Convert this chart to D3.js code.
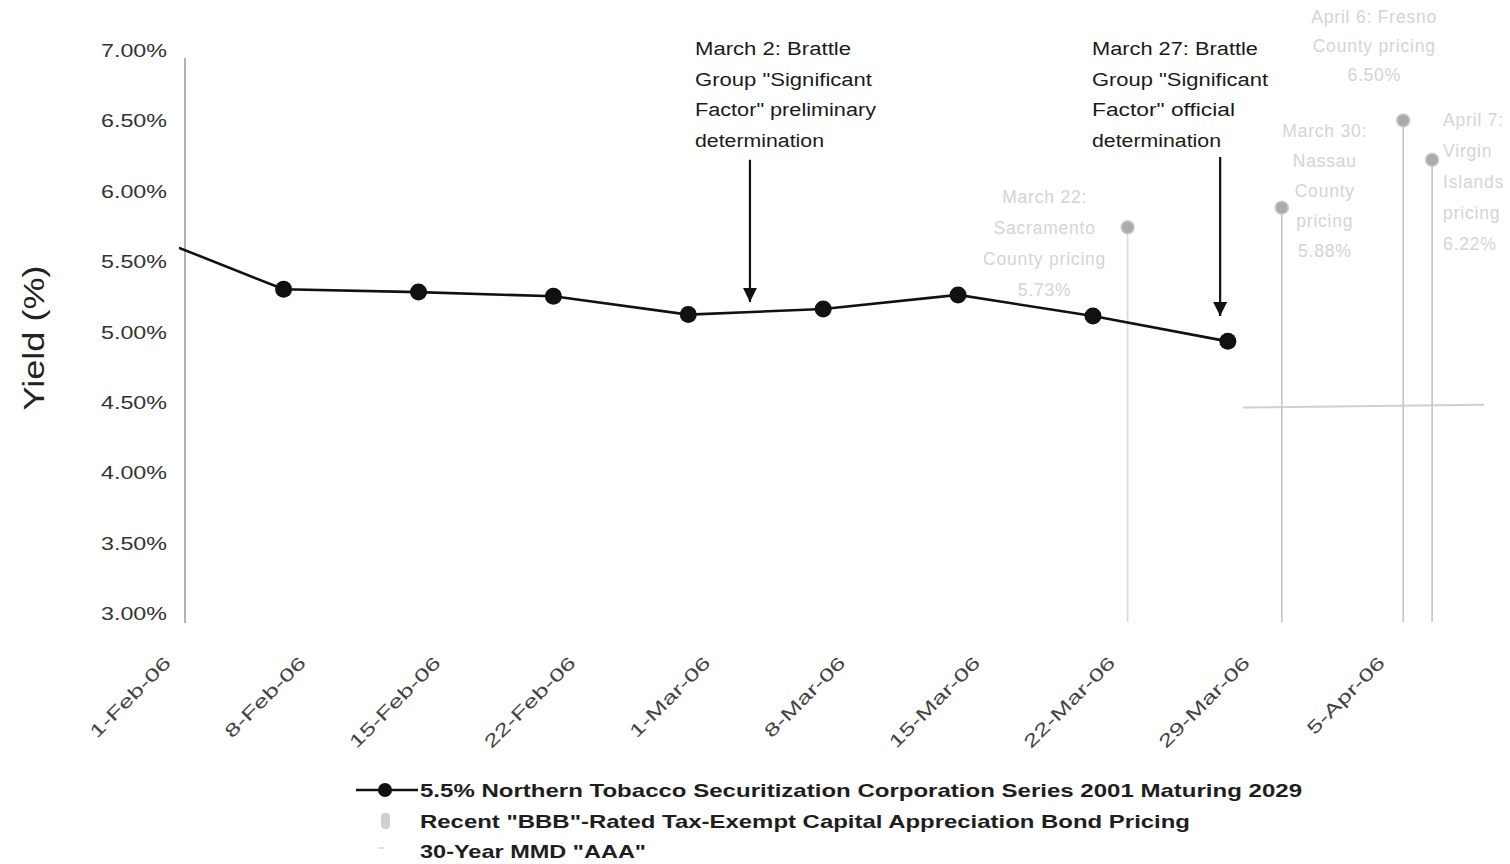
<!DOCTYPE html>
<html>
<head>
<meta charset="utf-8">
<script src="https://cdn.jsdelivr.net/npm/d3@7"></script>
<style>
  html, body { margin: 0; padding: 0; background: #fff; }
  svg { display: block; font-family: Arial, "Liberation Sans", sans-serif; }
</style>
</head>
<body>
<svg id="chart" width="1510" height="864"></svg>
<script>
// ---------------- data ----------------
const tickLabels = ["1-Feb-06","8-Feb-06","15-Feb-06","22-Feb-06","1-Mar-06","8-Mar-06","15-Mar-06","22-Mar-06","29-Mar-06","5-Apr-06"];
const tickDays   = [0, 7, 14, 21, 28, 35, 42, 49, 56, 63];          // days after 1-Feb-06
const yTicks     = [3.0, 3.5, 4.0, 4.5, 5.0, 5.5, 6.0, 6.5, 7.0];
const yTickLabels = ["3.00%","3.50%","4.00%","4.50%","5.00%","5.50%","6.00%","6.50%","7.00%"];

// 5.5% Northern Tobacco Securitization Corporation Series 2001 Maturing 2029 (weekly, Tuesdays)
const tobaccoDays  = [-1, 6, 13, 20, 27, 34, 41, 48, 55];
const tobaccoYield = [5.68, 5.30, 5.28, 5.25, 5.12, 5.16, 5.26, 5.11, 4.93];

// Recent "BBB"-rated tax-exempt capital appreciation bond pricing
const bbbDays  = [49.8, 57.8, 64.1, 65.6];
const bbbYield = [5.74, 5.88, 6.50, 6.22];
const bbbText  = [
  ["March 22:", "Sacramento", "County pricing", "5.73%"],
  ["March 30:", "Nassau", "County", "pricing", "5.88%"],
  ["April 6: Fresno", "County pricing", "6.50%"],
  ["April 7:", "Virgin", "Islands", "pricing", "6.22%"]
];

// 30-Year MMD "AAA"
const mmdDays  = [55.8, 68.3];
const mmdYield = [4.46, 4.48];

// annotations
const annDays   = [30.2, 54.6];
const annTop    = [6.22, 6.24];
const annBottom = [5.21, 5.11];
const annText = [
  ["March 2: Brattle", "Group \"Significant", "Factor\" preliminary", "determination"],
  ["March 27: Brattle", "Group \"Significant", "Factor\" official", "determination"]
];

const legendText = [
  "5.5% Northern Tobacco Securitization Corporation Series 2001 Maturing 2029",
  "Recent \"BBB\"-Rated Tax-Exempt Capital Appreciation Bond Pricing",
  "30-Year MMD \"AAA\""
];

// ---------------- layout ----------------
const svg = d3.select("#chart");
const x = d3.scaleLinear().domain([0, 63]).range([168, 1382]);
const y = d3.scaleLinear().domain([3, 7]).range([613, 50]);
const axisX = 185;

// measured text widths (layout only)
const annWidths = [[156, 177, 181, 129], [166, 176, 143, 129]];
const legendWidths = [882, 770, 226];

function fit(sel, wFn) {
  sel.attr("textLength", wFn).attr("lengthAdjust", "spacingAndGlyphs");
}
function stretch(sel, k) {
  sel.each(function() {
    const w = this.getComputedTextLength();
    d3.select(this).attr("textLength", w * k).attr("lengthAdjust", "spacingAndGlyphs");
  });
}

// defs
const defs = svg.append("defs");
defs.append("clipPath").attr("id", "plotClip")
  .append("rect").attr("x", axisX - 6).attr("y", 0).attr("width", 1510).attr("height", 864);
defs.append("marker").attr("id", "arrowHead")
  .attr("viewBox", "0 0 10 10").attr("refX", 10).attr("refY", 5)
  .attr("markerWidth", 14).attr("markerHeight", 14).attr("markerUnits", "userSpaceOnUse")
  .attr("orient", "auto")
  .append("path").attr("d", "M0,0 L10,5 L0,10 z").attr("fill", "#111");

// y axis line
svg.append("line")
  .attr("x1", axisX).attr("x2", axisX)
  .attr("y1", y(7) + 8).attr("y2", y(3) + 10)
  .attr("stroke", "#9a9a9a").attr("stroke-width", 1.5);

// y tick labels
const yl = svg.append("g").selectAll("text").data(yTicks).join("text")
  .attr("x", 167).attr("y", d => y(d) + 7)
  .attr("text-anchor", "end")
  .attr("font-size", 19).attr("fill", "#333")
  .text((d, i) => yTickLabels[i]);
fit(yl, 66);

// y axis title
svg.append("text")
  .attr("transform", "translate(44,338) rotate(-90)")
  .attr("text-anchor", "middle")
  .attr("font-size", 29).attr("fill", "#222")
  .attr("textLength", 145).attr("lengthAdjust", "spacingAndGlyphs")
  .text("Yield (%)");

// x tick labels
const xl = svg.append("g").selectAll("text").data(tickDays).join("text")
  .attr("text-anchor", "end")
  .attr("transform", d => `translate(${x(d) + 4},664) rotate(-45)`)
  .attr("font-size", 18).attr("fill", "#444")
  .text((d, i) => tickLabels[i]);
stretch(xl, 1.45);

// MMD line
svg.append("path")
  .datum(mmdDays.map((d, i) => [d, mmdYield[i]]))
  .attr("d", d3.line().x(d => x(d[0])).y(d => y(d[1])))
  .attr("fill", "none").attr("stroke", "#d0d0d0").attr("stroke-width", 2);

// BBB stems
svg.append("g").selectAll("line").data(bbbDays).join("line")
  .attr("x1", d => x(d)).attr("x2", d => x(d))
  .attr("y1", (d, i) => y(bbbYield[i]) + 6).attr("y2", y(3) + 9)
  .attr("stroke", (d, i) => i === 0 ? "#d8d8d8" : "#c4c4c4")
  .attr("stroke-width", 1.6);

// BBB markers
svg.append("g").selectAll("circle").data(bbbDays).join("circle")
  .attr("cx", d => x(d)).attr("cy", (d, i) => y(bbbYield[i]))
  .attr("r", 6.5)
  .attr("fill", "#ababab").attr("stroke", "#cdcdcd").attr("stroke-width", 1.5);

// BBB labels (faint)
const bbbLayout = [
  { dx: -83, y0: 203, anchor: "middle", lh: 31 },
  { dx: 43,  y0: 137, anchor: "middle", lh: 30 },
  { dx: -29, y0: 23,  anchor: "middle", lh: 29 },
  { dx: 11,  y0: 126, anchor: "start",  lh: 31 }
];
bbbText.forEach((lines, i) => {
  const L = bbbLayout[i];
  svg.append("g").selectAll("text").data(lines).join("text")
    .attr("x", x(bbbDays[i]) + L.dx)
    .attr("y", (d, j) => L.y0 + j * L.lh)
    .attr("text-anchor", L.anchor)
    .attr("font-size", 17.5).attr("letter-spacing", 0.8).attr("fill", "#d4d4d4")
    .text(d => d);
});

// Tobacco series line + markers
const tob = tobaccoDays.map((d, i) => [d, tobaccoYield[i]]);
const plot = svg.append("g").attr("clip-path", "url(#plotClip)");
plot.append("path").datum(tob)
  .attr("d", d3.line().x(d => x(d[0])).y(d => y(d[1])))
  .attr("fill", "none").attr("stroke", "#111").attr("stroke-width", 2.6);
plot.selectAll("circle").data(tob.slice(1)).join("circle")
  .attr("cx", d => x(d[0])).attr("cy", d => y(d[1]))
  .attr("r", 8.5).attr("fill", "#111");

// Annotations
const annLeft = [695, 1092];
annDays.forEach((d, i) => {
  svg.append("line")
    .attr("x1", x(d)).attr("x2", x(d))
    .attr("y1", y(annTop[i])).attr("y2", y(annBottom[i]))
    .attr("stroke", "#111").attr("stroke-width", 2.2)
    .attr("marker-end", "url(#arrowHead)");
  const t = svg.append("g").selectAll("text").data(annText[i]).join("text")
    .attr("x", annLeft[i]).attr("y", (s, j) => 55 + j * 30.7)
    .attr("font-size", 18).attr("fill", "#1a1a1a")
    .text(s => s);
  fit(t, (s, j) => annWidths[i][j]);
});

// Legend
const lg = svg.append("g");
lg.append("line").attr("x1", 356).attr("x2", 418).attr("y1", 790).attr("y2", 790)
  .attr("stroke", "#111").attr("stroke-width", 2.6);
lg.append("circle").attr("cx", 385).attr("cy", 790).attr("r", 7).attr("fill", "#111");
lg.append("rect").attr("x", 381).attr("y", 813).attr("width", 9).attr("height", 16).attr("rx", 4)
  .attr("fill", "#cfcfcf");
lg.append("line").attr("x1", 378).attr("x2", 384).attr("y1", 848).attr("y2", 848)
  .attr("stroke", "#e2e2e2").attr("stroke-width", 2);
const lt = lg.selectAll("text").data(legendText).join("text")
  .attr("x", 420).attr("y", (d, i) => 797 + i * 30.5)
  .attr("font-size", 19).attr("font-weight", "bold").attr("fill", "#1e1e1e")
  .text(d => d);
fit(lt, (d, i) => legendWidths[i]);
</script>
</body>
</html>
